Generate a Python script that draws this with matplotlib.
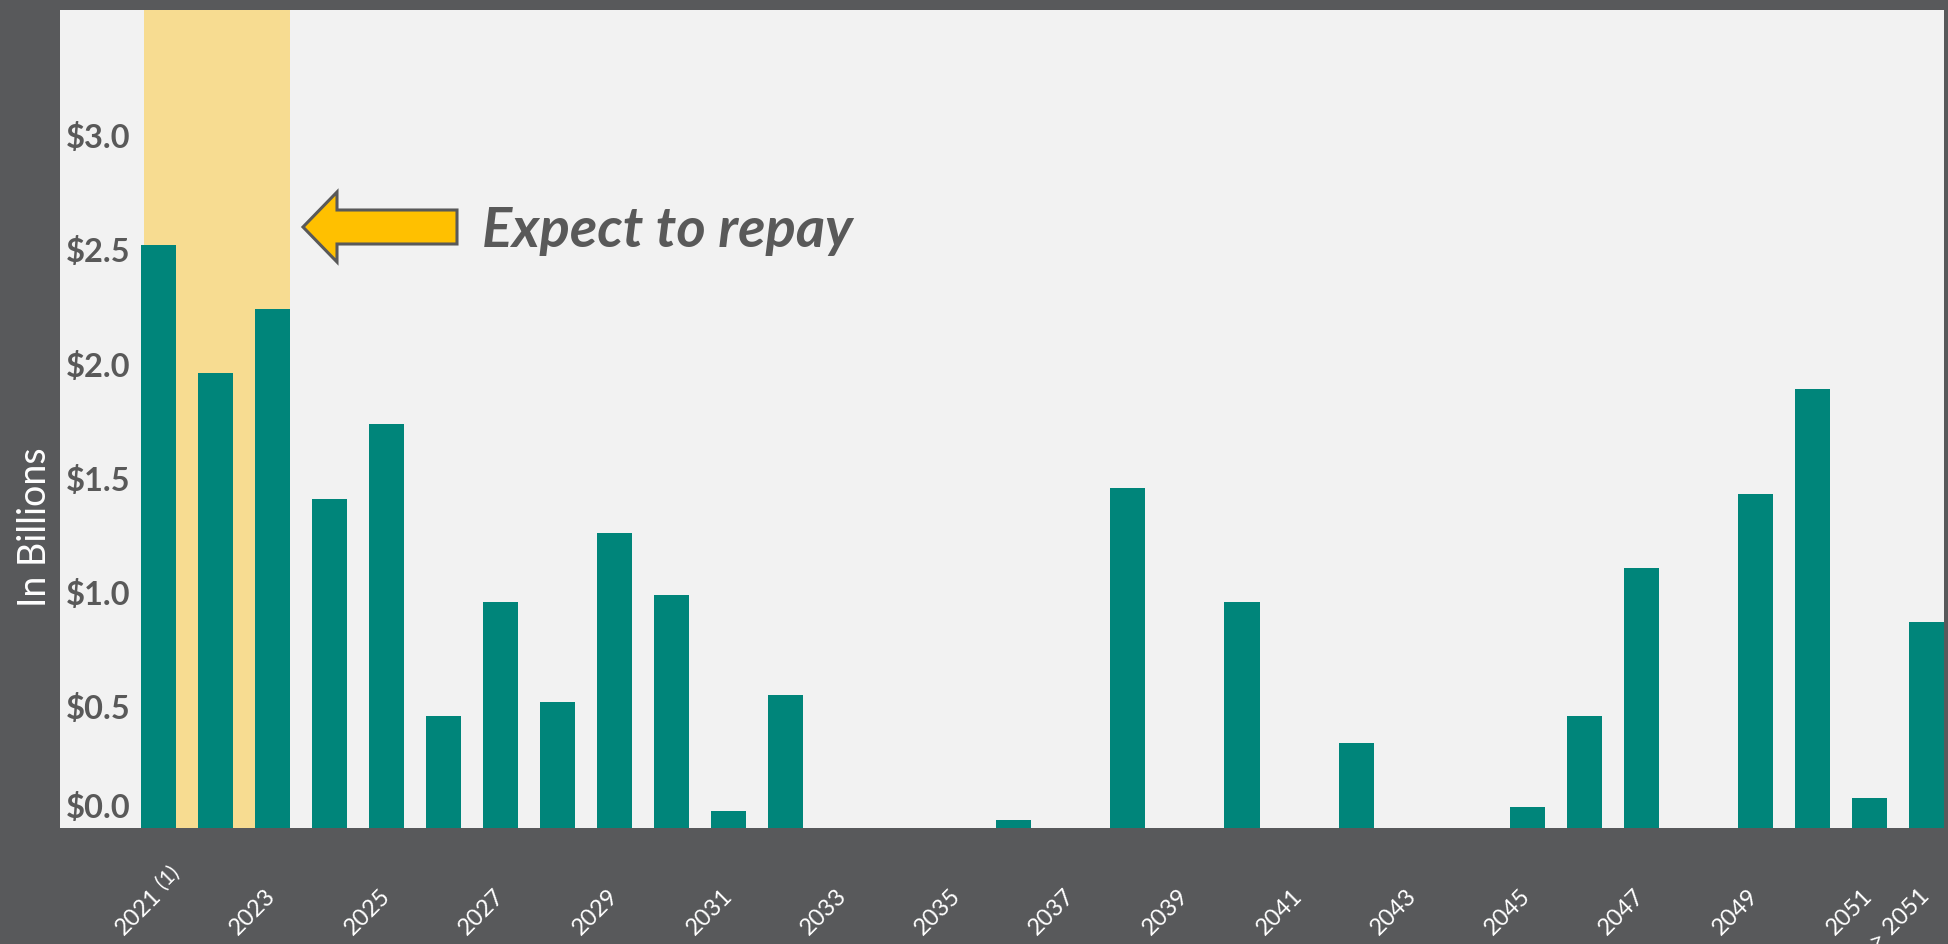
import matplotlib.pyplot as plt
from matplotlib.patches import FancyArrow
from matplotlib.transforms import ScaledTranslation

# data (in billions)
years = [str(y) for y in range(2021, 2052)] + ['> 2051']
amounts = [2.55, 1.99, 2.27, 1.44, 1.77, 0.49, 0.99, 0.55, 1.29, 1.02,
           0.076, 0.58, 0, 0, 0, 0.035, 0, 1.49, 0, 0.99,
           0, 0.37, 0, 0, 0.09, 0.49, 1.14, 0, 1.46, 1.92,
           0.13, 0.90]
tick_idx = list(range(0, 31, 2)) + [31]
tick_labels = [years[i] for i in tick_idx]
footnote = '(1)'
y_ticks = [0, 0.5, 1.0, 1.5, 2.0, 2.5, 3.0]

dark = '#58595B'
panel = '#F2F2F2'
teal = '#00857A'
gold = '#F7DC91'
txt = '#595959'

plt.rcParams['font.family'] = ['Lato', 'DejaVu Sans']

fig = plt.figure(figsize=(19.49, 9.45), dpi=100, facecolor=dark)
ax = fig.add_axes([60 / 1949, 116 / 945, 1884 / 1949, 818 / 945])
ax.set_facecolor(panel)

x = list(range(len(amounts)))
ax.axvspan(-0.254, 2.306, color=gold, zorder=0, lw=0)
ax.bar(x, amounts, width=0.614, color=teal, zorder=2)

ax.set_xlim(-1.727, 31.31)
ax.set_ylim(0, 3.58)

for s in ax.spines.values():
    s.set_visible(False)

ax.set_yticks(y_ticks)
ax.set_yticklabels(['$%.1f' % v for v in y_ticks], fontsize=23.5,
                   fontweight='bold', color=txt)
ax.tick_params(axis='y', length=0, pad=-51)
for lab in ax.get_yticklabels():
    dy = 23 if lab.get_text() == '$0.0' else 8
    lab.set_transform(lab.get_transform() + ScaledTranslation(0, dy / 100, fig.dpi_scale_trans))

xpad = 46
ax.set_xticks(tick_idx)
ax.set_xticklabels(tick_labels, fontsize=17, color='white', rotation=45,
                   ha='right', va='center', rotation_mode='anchor')
ax.tick_params(axis='x', length=0, pad=xpad)

# footnote marker after the first year label
ax.annotate(footnote, xy=(tick_idx[0], 0), xycoords=ax.get_xaxis_transform(),
            xytext=(0.5, -xpad + 5.5), textcoords='offset points',
            rotation=45, rotation_mode='anchor', ha='left', va='center',
            fontsize=15, color='white', annotation_clip=False)

fig.text(35 / 1949, 1 - 527 / 945, 'In Billions', rotation=90, color='white',
         fontsize=27, fontweight='normal', ha='center', va='center')

# block arrow + annotation
arrow = FancyArrow(4.57, 9.45 - 2.28, -1.54, 0, width=0.34, head_width=0.70,
                   head_length=0.34, length_includes_head=True,
                   facecolor='#FFC000', edgecolor=txt, linewidth=2.2,
                   transform=fig.dpi_scale_trans)
fig.add_artist(arrow)
fig.text(482 / 1949, 1 - 231 / 945, 'Expect to repay', fontsize=40.5,
         fontweight='bold', style='italic', color=txt, ha='left', va='center')

fig.savefig('out.png', dpi=100, facecolor=dark)
